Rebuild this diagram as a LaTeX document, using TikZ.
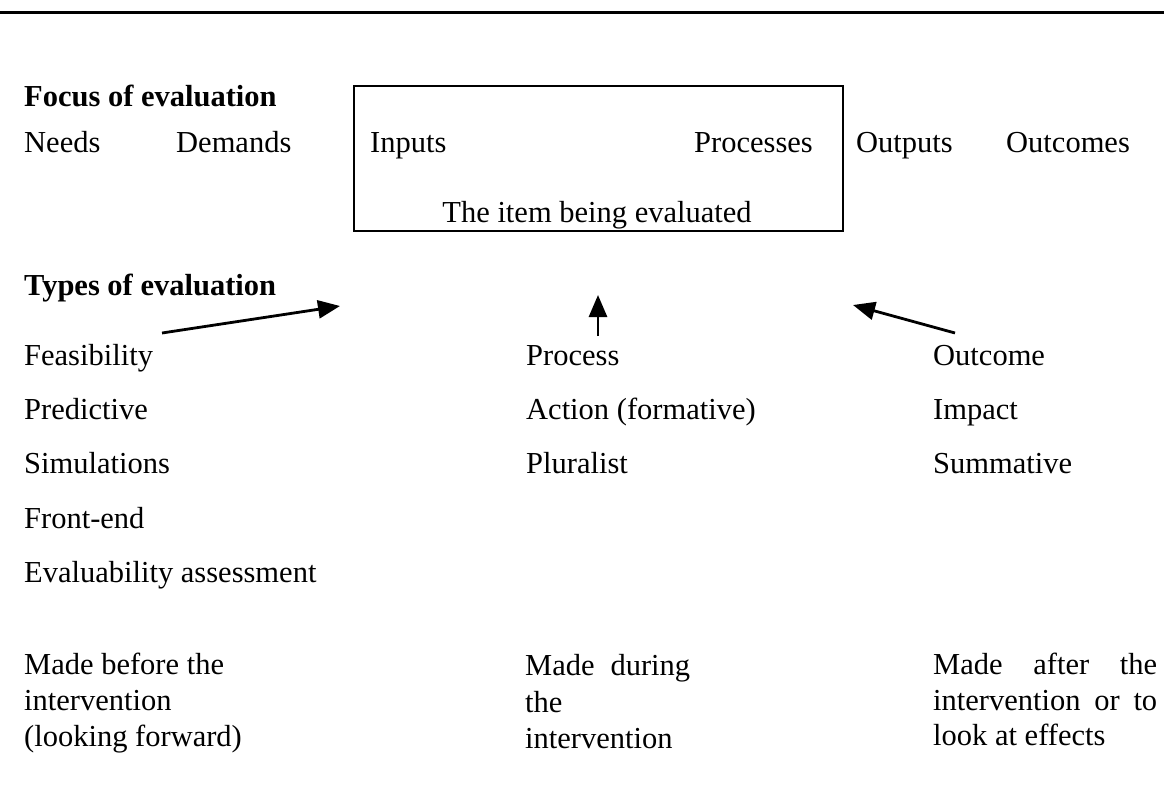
\documentclass[tikz,border=0pt]{standalone}
\usepackage{fontspec}
\setmainfont{Liberation Serif}
\usetikzlibrary{arrows.meta}
\begin{document}
\begin{tikzpicture}[x=1pt,y=-1pt,
  txt/.style={anchor=base west, inner sep=0pt, font=\fontsize{30.5}{36}\selectfont},
  hd/.style={anchor=base west, inner sep=0pt, font=\fontsize{30.5}{36}\selectfont\bfseries},
  arr/.style={line width=2.8pt, -{Triangle[length=22pt,width=18pt]}},
  itembox/.style={draw, line width=2pt, anchor=north west, inner sep=0pt, minimum width=489pt, minimum height=145pt}]
\useasboundingbox (0,0) rectangle (1164,785);
% top rule
\coordinate (ruleL) at (0,12);
\coordinate (ruleR) at (1164,12);
\draw[line width=3pt] (ruleL) -- (ruleR);
% focus
\node[hd] (focus) at (24,106) {Focus of evaluation};
\node[itembox] (box) at (353,85) {};
\node[txt] (needs) at (24,152) {Needs};
\node[txt] (demands) at (176,152) {Demands};
\node[txt] (inputs) at (370,152) {Inputs};
\node[txt, anchor=base east] (processes) at (813,152) {Processes};
\node[txt] (outputs) at (856,152) {Outputs};
\node[txt] (outcomes) at (1006,152) {Outcomes};
\node[txt, anchor=base] (item) at (597,222) {The item being evaluated};
% types
\node[hd] (types) at (24,295) {Types of evaluation};
\coordinate (a1s) at (162,333);
\coordinate (a1e) at (340,306);
\coordinate (a2s) at (598,336);
\coordinate (a2e) at (598,295);
\coordinate (a3s) at (955,333);
\coordinate (a3e) at (853,305);
\draw[arr] (a1s) -- (a1e);
\draw[arr] (a2s) -- (a2e);
\draw[arr] (a3s) -- (a3e);
% column 1
\node[txt] (feas) at (24,365) {Feasibility};
\node[txt] (pred) at (24,419) {Predictive};
\node[txt] (sim) at (24,473) {Simulations};
\node[txt] (front) at (24,528) {Front-end};
\node[txt] (evalu) at (24,582) {Evaluability assessment};
% column 2
\node[txt] (proc) at (526,365) {Process};
\node[txt] (action) at (526,419) {Action (formative)};
\node[txt] (plur) at (526,473) {Pluralist};
% column 3
\node[txt] (outc) at (933,365) {Outcome};
\node[txt] (impact) at (933,419) {Impact};
\node[txt] (summ) at (933,473) {Summative};
% bottom
\node[txt] (b1a) at (24,674) {Made before the};
\node[txt] (b1b) at (24,710) {intervention};
\node[txt] (b1c) at (24,746) {(looking forward)};
\node[txt] (b2a) at (525,675) {\hbox to 165pt{Made\hfil during}};
\node[txt] (b2b) at (525,712) {the};
\node[txt] (b2c) at (525,748) {intervention};
\node[txt] (b3a) at (933,674) {\hbox to 224pt{Made\hfil after\hfil the}};
\node[txt] (b3b) at (933,710) {\hbox to 224pt{intervention\hfil or\hfil to}};
\node[txt] (b3c) at (933,745) {look at effects};
\end{tikzpicture}
\end{document}
